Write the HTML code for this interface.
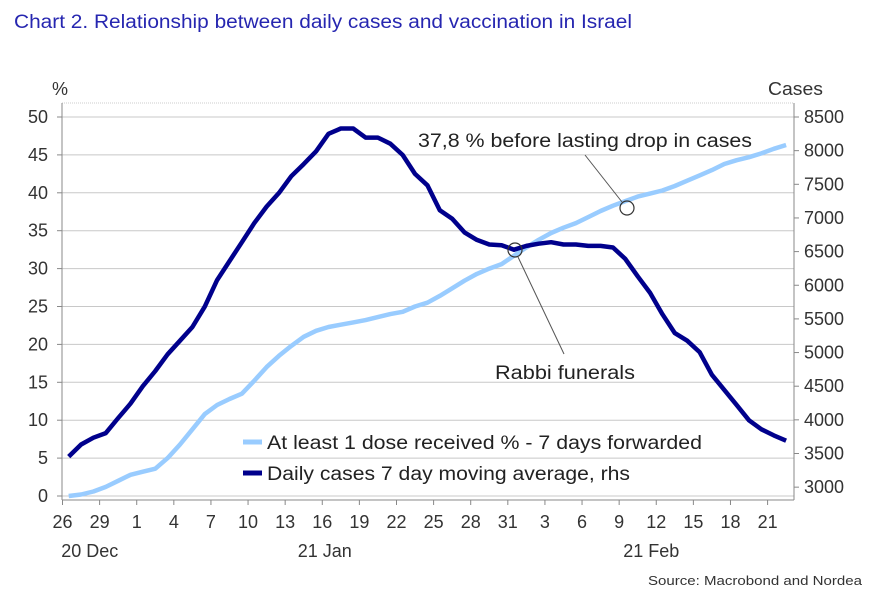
<!DOCTYPE html>
<html><head><meta charset="utf-8"><style>
body{margin:0;background:#fff;width:871px;height:599px;overflow:hidden;font-family:"Liberation Sans",sans-serif}
</style></head><body>
<svg id="chart" width="871" height="599" xmlns="http://www.w3.org/2000/svg" font-family="Liberation Sans, sans-serif">
<text x="14" y="28" font-size="19" fill="#2626b0" textLength="618" lengthAdjust="spacingAndGlyphs">Chart 2. Relationship between daily cases and vaccination in Israel</text>
<text x="52" y="95" font-size="18" fill="#333">%</text>
<text x="768" y="95" font-size="18" fill="#333" textLength="55" lengthAdjust="spacingAndGlyphs">Cases</text>
<text x="648" y="585" font-size="13" fill="#333" textLength="214" lengthAdjust="spacingAndGlyphs">Source: Macrobond and Nordea</text>
<g id="grid"></g><g id="axes"></g><g id="series"></g><g id="annot"></g>
</svg>
<script>
const leftTicks=[0,5,10,15,20,25,30,35,40,45,50];
const rightTicks=[3000,3500,4000,4500,5000,5500,6000,6500,7000,7500,8000,8500];
const xTickLabels=["26","29","1","4","7","10","13","16","19","22","25","28","31","3","6","9","12","15","18","21"];
const xTickDays=[0,3,6,9,12,15,18,21,24,27,30,33,36,39,42,45,48,51,54,57];
const monthLabels=["20 Dec","21 Jan","21 Feb"];
const monthDays=[2.2,21.2,47.6];
const vaccinated=[0,0.2,0.6,1.2,2,2.8,3.2,3.6,5,6.8,8.8,10.8,12,12.8,13.5,15.2,17,18.5,19.8,21,21.8,22.3,22.6,22.9,23.2,23.6,24.0,24.3,25.0,25.5,26.4,27.4,28.4,29.3,30,30.6,31.7,32.8,33.8,34.7,35.4,36.0,36.8,37.6,38.3,38.9,39.5,39.9,40.3,40.9,41.6,42.3,43.0,43.8,44.3,44.7,45.2,45.8,46.3];
const cases=[3454,3634,3735,3803,4028,4242,4501,4726,4974,5176,5379,5683,6077,6359,6640,6922,7169,7372,7620,7800,7991,8250,8329,8329,8194,8194,8104,7935,7654,7485,7113,6989,6786,6674,6606,6595,6528,6584,6618,6640,6606,6606,6584,6584,6561,6392,6133,5886,5570,5289,5176,5007,4670,4445,4219,3994,3859,3769,3690];
const NS="http://www.w3.org/2000/svg";
const X0=62.5,DX=12.37,PL=62,PR=794,PT=103,PB=500;
const x=d=>X0+d*DX;
const yL=v=>496-v*7.58;
const yR=v=>117+(8500-v)*0.0673;
function mk(tag,attrs,parent,text){const e=document.createElementNS(NS,tag);for(const k in attrs)e.setAttribute(k,attrs[k]);if(text!==undefined)e.textContent=text;parent.appendChild(e);return e;}
const grid=document.getElementById('grid'),axes=document.getElementById('axes'),ser=document.getElementById('series'),ann=document.getElementById('annot');
let e=mk('line',{x1:PL,y1:PT,x2:PR,y2:PT,stroke:'#ccc','stroke-dasharray':'1,1'},grid);


leftTicks.forEach(v=>{
 const g=mk('line',{x1:PL,y1:yL(v),x2:PR,y2:yL(v),stroke:'#c8c8c8','stroke-width':1},grid);
 
 
 const t=mk('text',{x:48,y:yL(v)+6,'font-size':18,fill:'#333','text-anchor':'end'},axes,String(v));
 
 
 mk('line',{x1:PL-5,y1:yL(v),x2:PL,y2:yL(v),stroke:'#888'},axes);
});
rightTicks.forEach(v=>{
 const t=mk('text',{x:804,y:yR(v)+6,'font-size':18,fill:'#333'},axes,String(v));
 
 
 mk('line',{x1:PR,y1:yR(v),x2:PR+5,y2:yR(v),stroke:'#888'},axes);
});
e=mk('line',{x1:PL,y1:PT,x2:PL,y2:PB,stroke:'#888'},axes);


e=mk('line',{x1:PR,y1:PT,x2:PR,y2:PB,stroke:'#888'},axes);


e=mk('line',{x1:PL,y1:PB,x2:PR,y2:PB,stroke:'#888'},axes);


xTickDays.forEach((d,i)=>{
 mk('line',{x1:x(d),y1:PB,x2:x(d),y2:PB+5,stroke:'#888'},axes);
 const t=mk('text',{x:x(d),y:528,'font-size':18,fill:'#333','text-anchor':'middle'},axes,xTickLabels[i]);
 
 
});
monthDays.forEach((d,i)=>{
 const t=mk('text',{x:x(d),y:557,'font-size':18,fill:'#333','text-anchor':'middle'},axes,monthLabels[i]);
 
 
});
const pv=vaccinated.map((v,i)=>x(i+0.5).toFixed(1)+','+yL(v).toFixed(1)).join(' ');
e=mk('polyline',{points:pv,fill:'none',stroke:'#99ccff','stroke-width':4.5,'stroke-linejoin':'round'},ser);


const pc=cases.map((v,i)=>x(i+0.5).toFixed(1)+','+yR(v).toFixed(1)).join(' ');
e=mk('polyline',{points:pc,fill:'none',stroke:'#00008c','stroke-width':4.5,'stroke-linejoin':'round'},ser);


// annotations
mk('line',{x1:585,y1:155,x2:622,y2:202,stroke:'#555'},ann);
e=mk('circle',{cx:627,cy:208,r:7,fill:'none',stroke:'#333','stroke-width':1.2},ann);


e=mk('text',{x:418,y:147,'font-size':19,fill:'#222',textLength:334,lengthAdjust:'spacingAndGlyphs'},ann,'37,8 % before lasting drop in cases');


mk('line',{x1:518,y1:257,x2:564,y2:354,stroke:'#555'},ann);
e=mk('circle',{cx:515,cy:250,r:7,fill:'none',stroke:'#333','stroke-width':1.2},ann);


e=mk('text',{x:495,y:379,'font-size':19,fill:'#222',textLength:140,lengthAdjust:'spacingAndGlyphs'},ann,'Rabbi funerals');


// legend
mk('line',{x1:243,y1:442,x2:262,y2:442,stroke:'#99ccff','stroke-width':5},ann);
e=mk('text',{x:267,y:449,'font-size':19,fill:'#222',textLength:435,lengthAdjust:'spacingAndGlyphs'},ann,'At least 1 dose received % - 7 days forwarded');


mk('line',{x1:243,y1:473,x2:262,y2:473,stroke:'#00008c','stroke-width':5},ann);
e=mk('text',{x:267,y:480,'font-size':19,fill:'#222',textLength:363,lengthAdjust:'spacingAndGlyphs'},ann,'Daily cases 7 day moving average, rhs');


</script>
</body></html>
